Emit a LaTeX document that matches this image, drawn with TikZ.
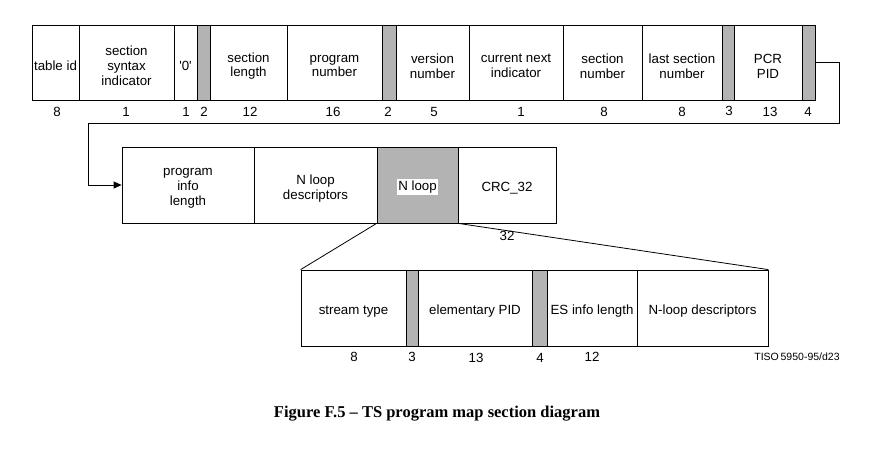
\documentclass[tikz,border=0pt]{standalone}
\usepackage{fontspec}
\setmainfont{Liberation Sans}
\newfontfamily\capfont{Liberation Serif}
\usetikzlibrary{arrows.meta}
\definecolor{fieldgrey}{RGB}{179,179,179}
\tikzset{
  field/.style={draw=black, line width=0.8pt, minimum height=75pt, inner sep=0pt},
  greyfield/.style={field, fill=fieldgrey},
  ftext/.style={inner sep=0pt, align=center, yshift=-3.5pt, font=\fontsize{13.3}{14.8}\selectfont},
  num/.style={font=\fontsize{13.3}{14.8}\selectfont, inner sep=0pt},
  conn/.style={line width=0.8pt, draw=black},
}
% #1 name, #2 style, #3 width, #4 height, #5 centre, #6 text
\newcommand\mkfield[6]{%
  \node[#2, minimum width=#3pt, minimum height=#4pt] (#1) at (#5) {};
  \node[ftext] (#1t) at (#1.center) {#6};}
\begin{document}
\begin{tikzpicture}[x=1pt,y=-1pt]
\useasboundingbox (0,0) rectangle (890,475);
% top row
\mkfield{tid}{field}{47}{75}{55.5,62.5}{table id}
\mkfield{ssi}{field}{95}{75}{126.5,62.5}{section\\syntax\\indicator}
\mkfield{zero}{field}{23}{75}{185.5,62.5}{\textquotesingle0\textquotesingle}
\node[greyfield, minimum width=13pt] (g1) at (203.5,62.5) {};
\mkfield{slen}{field}{77}{75}{248.5,62.5}{section\\length}
\mkfield{pnum}{field}{95}{75}{334.5,62.5}{program\\number}
\node[greyfield, minimum width=14pt] (g2) at (389,62.5) {};
\mkfield{ver}{field}{73}{75}{432.5,62.5}{version\\number}
\mkfield{cni}{field}{94}{75}{516,62.5}{current next\\indicator}
\mkfield{snum}{field}{79}{75}{602.5,62.5}{section\\number}
\mkfield{lsn}{field}{80}{75}{682,62.5}{last section\\number}
\node[greyfield, minimum width=12pt] (g3) at (728,62.5) {};
\mkfield{pcr}{field}{68}{75}{768,62.5}{PCR\\PID}
\node[greyfield, minimum width=13pt] (g4) at (808.5,62.5) {};
% top numbers
\node[num] (n1) at (57,112) {8};
\node[num] (n2) at (126,112) {1};
\node[num] (n3) at (186,112) {1};
\node[num] (n4) at (204,112) {2};
\node[num] (n5) at (250,112) {12};
\node[num] (n6) at (333,112) {16};
\node[num] (n7) at (388,112) {2};
\node[num] (n8) at (434,112) {5};
\node[num] (n9) at (521,112) {1};
\node[num] (n10) at (604,112) {8};
\node[num] (n11) at (682,112) {8};
\node[num] (n12) at (729,111) {3};
\node[num] (n13) at (770,112) {13};
\node[num] (n14) at (808,112) {4};
% second row
\mkfield{pil}{field}{132}{76}{188,185}{program\\info\\length}
\mkfield{nld}{field}{123}{76}{315.5,185}{N loop\\descriptors}
\node[greyfield, minimum height=76pt, minimum width=81pt] (nl) at (417.5,185) {};
\node[fill=white, inner sep=1.5pt, font=\fontsize{13.3}{14.8}\selectfont] (nltext) at ([yshift=-2pt]nl.center) {N loop};
\mkfield{crc}{field}{98}{76}{507,185}{CRC\_32}
% connector
\coordinate (c1) at (839,123);
\coordinate (c2) at (88,123);
\draw[conn, -{Triangle[length=8pt,width=7pt]}] (g4.east) -| (c1) -- (c2) |- (pil.west);
% third row
\mkfield{st}{field}{105}{76}{353.5,308}{stream type}
\node[greyfield, minimum height=76pt, minimum width=12pt] (g5) at (412,308) {};
\mkfield{epid}{field}{114}{76}{475,308}{elementary PID}
\node[greyfield, minimum height=76pt, minimum width=15pt] (g6) at (539.5,308) {};
\mkfield{esil}{field}{90}{76}{592,308}{ES info length}
\mkfield{nld2}{field}{131}{76}{702.5,308}{N-loop descriptors}
% fan lines
\draw[conn] (nl.south west) -- (st.north west);
\draw[conn] (nl.south east) -- (nld2.north east);
\node[num] (n32) at (507,236) {32};
% third numbers
\node[num] (m1) at (354,357) {8};
\node[num] (m2) at (412,357) {3};
\node[num] (m3) at (476,358) {13};
\node[num] (m4) at (540,358) {4};
\node[num] (m5) at (592,357) {12};
\node[font=\fontsize{10.5}{12}\selectfont, inner sep=0pt] (tiso) at (797,357) {TISO\,5950-95/d23};
% caption
\node[font=\capfont\bfseries\fontsize{16.5}{19}\selectfont, inner sep=0pt] (cap) at (437,414) {Figure F.5 – TS program map section diagram};
\end{tikzpicture}
\end{document}
